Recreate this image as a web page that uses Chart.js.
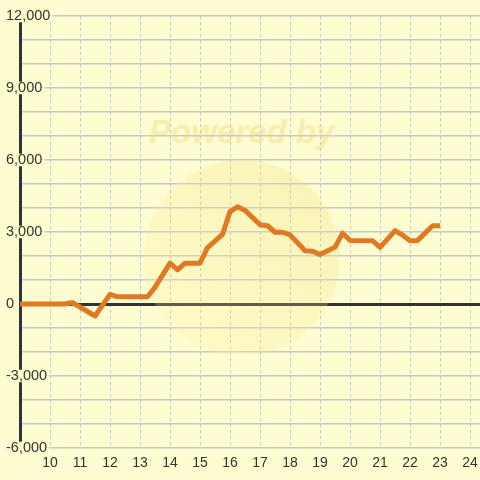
<!DOCTYPE html>
<html>
<head>
<meta charset="utf-8">
<script src="https://cdn.jsdelivr.net/npm/chart.js@4"></script>
<style>
html,body{margin:0;padding:0;background:#FDFDD1;}
#wrap{width:480px;height:480px;}
</style>
</head>
<body>
<div id="wrap"><canvas id="c" width="480" height="480"></canvas></div>
<script>
// ---- data ----
const times  = [9, 10.5, 10.75, 11.5, 12, 12.25, 13.25, 13.5, 14, 14.25, 14.5, 15, 15.25, 15.75, 16, 16.25, 16.5, 17, 17.25, 17.5, 17.75, 18, 18.5, 18.75, 19, 19.5, 19.75, 20, 20.75, 21, 21.5, 21.75, 22, 22.25, 22.75, 23];
const values = [0, 0, 60, -500, 400, 300, 300, 700, 1700, 1420, 1700, 1700, 2350, 2900, 3850, 4050, 3900, 3300, 3260, 2990, 2990, 2880, 2220, 2200, 2060, 2370, 2950, 2650, 2640, 2360, 3060, 2870, 2640, 2650, 3260, 3260];
const xTickValues = [9, 10, 11, 12, 13, 14, 15, 16, 17, 18, 19, 20, 21, 22, 23, 24];
const yTickValues = [-6000, -5000, -4000, -3000, -2000, -1000, 0, 1000, 2000, 3000, 4000, 5000, 6000, 7000, 8000, 9000, 10000, 11000, 12000];
const yLabelStep = 3000;
const watermarkText = 'Powered by';

const BG = '#FDFDD1';
const TXT = '#333333';

const bgPlugin = {
  id: 'bg',
  beforeDraw(chart) {
    const ctx = chart.ctx;
    ctx.save();
    ctx.fillStyle = BG;
    ctx.fillRect(0, 0, chart.width, chart.height);
    ctx.restore();
  },
  beforeDatasetsDraw(chart) {
    const ctx = chart.ctx;
    const a = chart.chartArea;
    const cx = a.left + (a.right - a.left) * 0.482;
    const cy = a.top + (a.bottom - a.top) * 0.56;
    ctx.save();
    const g = ctx.createLinearGradient(cx - 90, cy + 90, cx + 90, cy - 90);
    g.addColorStop(0, 'rgba(252,242,160,0.22)');
    g.addColorStop(1, 'rgba(240,215,110,0.26)');
    ctx.fillStyle = g;
    ctx.beginPath();
    ctx.arc(cx, cy, 98, 0, Math.PI * 2);
    ctx.fill();
    ctx.font = 'italic bold 33px "Liberation Sans", Arial, sans-serif';
    ctx.textAlign = 'center';
    ctx.textBaseline = 'middle';
    ctx.fillStyle = 'rgba(238,215,120,0.4)';
    ctx.fillText(watermarkText, cx, a.top + 118);
    ctx.restore();
  }
};

new Chart(document.getElementById('c'), {
  type: 'line',
  data: {
    datasets: [{
      data: times.map((t, i) => ({x: t, y: values[i]})),
      borderColor: '#E07A22',
      borderWidth: 5,
      pointRadius: 0,
      tension: 0,
      fill: false,
      borderJoinStyle: 'round',
      borderCapStyle: 'butt'
    }]
  },
  options: {
    responsive: false,
    animation: false,
    devicePixelRatio: 1,
    layout: {padding: {left: 6, top: 16, right: 0, bottom: 0}},
    plugins: {legend: {display: false}, tooltip: {enabled: false}},
    scales: {
      x: {
        type: 'linear',
        min: 9,
        max: 24.33,
        afterBuildTicks: s => { s.ticks = xTickValues.map(v => ({value: v})); },
        afterFit: s => { s.height = 32; s.paddingLeft = 0; s.paddingRight = 0; },
        grid: {color: '#C4C4CC', lineWidth: 1, drawTicks: false},
        border: {display: false, dash: [3, 3]},
        ticks: {
          autoSkip: false,
          maxRotation: 0,
          padding: 7,
          color: TXT,
          font: {family: '"Liberation Sans", Arial, sans-serif', size: 14},
          callback: v => (v === 9 ? '' : String(v))
        }
      },
      y: {
        type: 'linear',
        min: -6000,
        max: 12000,
        afterBuildTicks: s => { s.ticks = yTickValues.map(v => ({value: v})); },
        afterFit: s => { s.width = 14; s.paddingTop = 0; s.paddingBottom = 0; },
        grid: {
          drawTicks: false,
          color: c => (c.tick && c.tick.value === 0 ? '#333333' : '#C8C8D2'),
          lineWidth: c => (c.tick && c.tick.value === 0 ? 3 : 1.5)
        },
        border: {display: true, color: '#333333', width: 3},
        ticks: {
          autoSkip: false,
          mirror: true,
          crossAlign: 'near',
          padding: -14,
          color: TXT,
          font: {family: '"Liberation Sans", Arial, sans-serif', size: 14.5, lineHeight: 1},
          showLabelBackdrop: c => c.tick && c.tick.value % yLabelStep === 0,
          backdropColor: BG,
          backdropPadding: {top: -1, bottom: -1, left: 2, right: 2},
          callback: v => (v % yLabelStep === 0 ? v.toLocaleString('en-US') : '')
        }
      }
    }
  },
  plugins: [bgPlugin]
});
</script>
</body>
</html>
